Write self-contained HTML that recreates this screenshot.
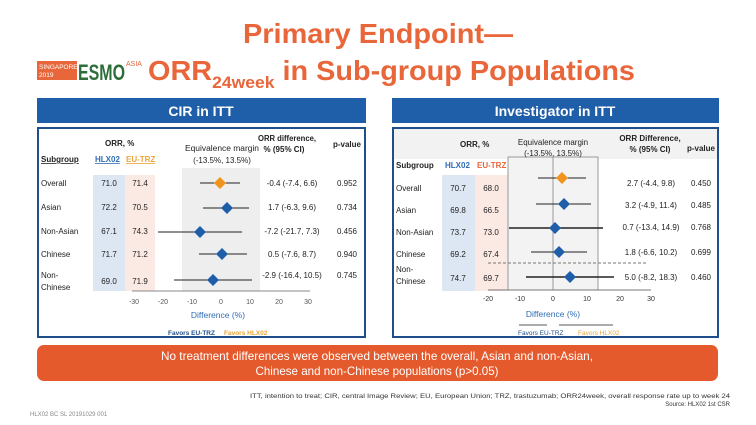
<!DOCTYPE html>
<html><head><meta charset="utf-8"><style>
html,body{margin:0;padding:0;background:#fff;}
svg{display:block;font-family:"Liberation Sans",sans-serif;}
</style></head><body>
<svg width="756" height="425" viewBox="0 0 756 425" xmlns="http://www.w3.org/2000/svg">
<rect width="756" height="425" fill="#fff"/>
<!-- Title -->
<text x="243" y="43" font-size="28" font-weight="bold" fill="#e8663a" textLength="270" lengthAdjust="spacingAndGlyphs">Primary Endpoint—</text>
<text x="148" y="80" font-size="28" font-weight="bold" fill="#e8663a" textLength="487" lengthAdjust="spacingAndGlyphs">ORR<tspan font-size="17" dy="8">24week</tspan><tspan dy="-8"> in Sub-group Populations</tspan></text>
<!-- logo -->
<rect x="37" y="61" width="40" height="19" fill="#e8663a"/>
<text x="39" y="69" font-size="6.5" fill="#fff">SINGAPORE</text>
<text x="39" y="77" font-size="6.5" fill="#fff">2019</text>
<text x="78" y="80" font-size="22" font-weight="bold" fill="#2d6e3a" textLength="47" lengthAdjust="spacingAndGlyphs">ESMO</text>
<text x="126" y="66" font-size="7" fill="#e8663a">ASIA</text>
<!-- headers -->
<rect x="37" y="98" width="329" height="25" fill="#1f5ea8"/>
<text x="201" y="116" text-anchor="middle" font-size="14" font-weight="bold" fill="#fff">CIR in ITT</text>
<rect x="392" y="98" width="327" height="25" fill="#1f5ea8"/>
<text x="555" y="116" text-anchor="middle" font-size="14" font-weight="bold" fill="#fff">Investigator in ITT</text>
<!-- panels -->
<rect x="38" y="128" width="327" height="209" fill="#fff" stroke="#1f4f8a" stroke-width="2"/>
<rect x="393" y="128" width="325" height="209" fill="#fff" stroke="#1f4f8a" stroke-width="2"/>

<!-- LEFT PANEL -->
<g font-size="8" fill="#222">
<rect x="93" y="175" width="32" height="116" fill="#dde6f3"/>
<rect x="125" y="175" width="30" height="116" fill="#fbe9e4"/>
<rect x="182" y="168" width="78" height="123" fill="#eeeeee"/>
<text x="105" y="146" font-weight="bold">ORR, %</text>
<text x="41" y="162" font-weight="bold" text-decoration="underline">Subgroup</text>
<text x="95" y="162" font-weight="bold" fill="#2f6db5" text-decoration="underline">HLX02</text>
<text x="126" y="162" font-weight="bold" fill="#e8a53a" text-decoration="underline">EU-TRZ</text>
<text x="222" y="151" text-anchor="middle" textLength="74" lengthAdjust="spacingAndGlyphs">Equivalence margin</text>
<text x="222" y="163" text-anchor="middle">(-13.5%, 13.5%)</text>
<text x="287" y="141" text-anchor="middle" font-weight="bold" textLength="58" lengthAdjust="spacingAndGlyphs">ORR difference,</text>
<text x="284" y="152" text-anchor="middle" font-weight="bold">% (95% CI)</text>
<text x="347" y="147" text-anchor="middle" font-weight="bold">p-value</text>
<text x="41" y="186">Overall</text><text x="41" y="210">Asian</text><text x="41" y="234">Non-Asian</text><text x="41" y="257">Chinese</text><text x="41" y="278">Non-</text><text x="41" y="290">Chinese</text>
<g text-anchor="middle">
<text x="109" y="186">71.0</text><text x="140" y="186">71.4</text>
<text x="109" y="210">72.2</text><text x="140" y="210">70.5</text>
<text x="109" y="234">67.1</text><text x="140" y="234">74.3</text>
<text x="109" y="257">71.7</text><text x="140" y="257">71.2</text>
<text x="109" y="284">69.0</text><text x="140" y="284">71.9</text>
<text x="292" y="186">-0.4 (-7.4, 6.6)</text><text x="347" y="186">0.952</text>
<text x="292" y="210">1.7 (-6.3, 9.6)</text><text x="347" y="210">0.734</text>
<text x="292" y="234">-7.2 (-21.7, 7.3)</text><text x="347" y="234">0.456</text>
<text x="292" y="257">0.5 (-7.6, 8.7)</text><text x="347" y="257">0.940</text>
<text x="292" y="278">-2.9 (-16.4, 10.5)</text><text x="347" y="278">0.745</text>
</g>
<g stroke="#222" stroke-width="1">
<line x1="200" y1="183" x2="240" y2="183"/>
<line x1="203" y1="208" x2="249" y2="208"/>
<line x1="158" y1="232" x2="242" y2="232"/>
<line x1="199" y1="254" x2="247" y2="254"/>
<line x1="174" y1="280" x2="252" y2="280"/>
<line x1="132" y1="291" x2="310" y2="291" stroke="#888"/>
</g>
<g>
<path d="M220 177 l6 6 l-6 6 l-6 -6z" fill="#f0941e"/>
<path d="M227 202 l6 6 l-6 6 l-6 -6z" fill="#1f5ea8"/>
<path d="M200 226 l6 6 l-6 6 l-6 -6z" fill="#1f5ea8"/>
<path d="M222 248 l6 6 l-6 6 l-6 -6z" fill="#1f5ea8"/>
<path d="M213 274 l6 6 l-6 6 l-6 -6z" fill="#1f5ea8"/>
</g>
<g text-anchor="middle" font-size="7" fill="#555">
<text x="134" y="304">-30</text><text x="163" y="304">-20</text><text x="192" y="304">-10</text><text x="221" y="304">0</text><text x="250" y="304">10</text><text x="279" y="304">20</text><text x="308" y="304">30</text>
</g>
<text x="218" y="318" text-anchor="middle" fill="#2f6db5" font-size="8.5">Difference (%)</text>
<text x="168" y="335" font-size="6.5" font-weight="bold" fill="#1f4f8a">Favors EU-TRZ</text>
<text x="224" y="335" font-size="6.5" font-weight="bold" fill="#e8a53a">Favors HLX02</text>
</g>

<!-- RIGHT PANEL -->
<g font-size="8" fill="#222">
<rect x="394" y="129" width="323" height="30" fill="#f2f2f2"/>
<rect x="442" y="175" width="33" height="116" fill="#dde6f3"/>
<rect x="475" y="175" width="33" height="116" fill="#fbe9e4"/>
<rect x="508" y="157" width="90" height="133" fill="#f3f3f3" stroke="#999" stroke-width="1"/>
<text x="460" y="147" font-weight="bold">ORR, %</text>
<text x="396" y="168" font-weight="bold">Subgroup</text>
<text x="445" y="168" font-weight="bold" fill="#2f6db5">HLX02</text>
<text x="477" y="168" font-weight="bold" fill="#e8663a">EU-TRZ</text>
<text x="553" y="145" text-anchor="middle">Equivalence margin</text>
<text x="553" y="156" text-anchor="middle">(-13.5%, 13.5%)</text>
<text x="650" y="141" text-anchor="middle" font-weight="bold">ORR Difference,</text>
<text x="650" y="152" text-anchor="middle" font-weight="bold">% (95% CI)</text>
<text x="701" y="151" text-anchor="middle" font-weight="bold">p-value</text>
<text x="396" y="191">Overall</text><text x="396" y="213">Asian</text><text x="396" y="235">Non-Asian</text><text x="396" y="257">Chinese</text><text x="396" y="272">Non-</text><text x="396" y="284">Chinese</text>
<g text-anchor="middle">
<text x="458" y="191">70.7</text><text x="491" y="191">68.0</text>
<text x="458" y="213">69.8</text><text x="491" y="213">66.5</text>
<text x="458" y="235">73.7</text><text x="491" y="235">73.0</text>
<text x="458" y="257">69.2</text><text x="491" y="257">67.4</text>
<text x="458" y="281">74.7</text><text x="491" y="281">69.7</text>
<text x="651" y="186">2.7 (-4.4, 9.8)</text><text x="701" y="186">0.450</text>
<text x="651" y="208">3.2 (-4.9, 11.4)</text><text x="701" y="208">0.485</text>
<text x="651" y="230">0.7 (-13.4, 14.9)</text><text x="701" y="230">0.768</text>
<text x="651" y="255">1.8 (-6.6, 10.2)</text><text x="701" y="255">0.699</text>
<text x="651" y="280">5.0 (-8.2, 18.3)</text><text x="701" y="280">0.460</text>
</g>
<line x1="553" y1="157" x2="553" y2="290" stroke="#999"/>
<line x1="488" y1="263" x2="648" y2="263" stroke="#777" stroke-dasharray="3,2"/>
<g stroke="#222" stroke-width="1">
<line x1="538" y1="178" x2="586" y2="178"/>
<line x1="536" y1="204" x2="591" y2="204"/>
<line x1="509" y1="228" x2="603" y2="228" stroke-width="1.5"/>
<line x1="531" y1="252" x2="587" y2="252"/>
<line x1="526" y1="277" x2="614" y2="277" stroke-width="1.5"/>
<line x1="488" y1="290" x2="651" y2="290" stroke="#777"/>
</g>
<path d="M562 172 l6 6 l-6 6 l-6 -6z" fill="#f0941e"/>
<path d="M564 198 l6 6 l-6 6 l-6 -6z" fill="#1f5ea8"/>
<path d="M555 222 l6 6 l-6 6 l-6 -6z" fill="#1f5ea8"/>
<path d="M559 246 l6 6 l-6 6 l-6 -6z" fill="#1f5ea8"/>
<path d="M570 271 l6 6 l-6 6 l-6 -6z" fill="#1f5ea8"/>
<g text-anchor="middle" font-size="7" fill="#333">
<text x="488" y="301">-20</text><text x="520" y="301">-10</text><text x="553" y="301">0</text><text x="587" y="301">10</text><text x="620" y="301">20</text><text x="651" y="301">30</text>
</g>
<text x="553" y="317" text-anchor="middle" fill="#2f6db5" font-size="8.5">Difference (%)</text>
<line x1="519" y1="325" x2="547" y2="325" stroke="#222" stroke-width="0.8"/>
<line x1="559" y1="325" x2="613" y2="325" stroke="#222" stroke-width="0.8"/>
<text x="518" y="335" font-size="6.5" fill="#1f4f8a">Favors EU-TRZ</text>
<text x="578" y="335" font-size="6.5" fill="#e8a53a">Favors HLX02</text>
</g>

<!-- banner -->
<rect x="37" y="345" width="681" height="36" rx="7" fill="#e45a2c"/>
<text x="377" y="360" text-anchor="middle" font-size="12" fill="#fff" textLength="432" lengthAdjust="spacingAndGlyphs">No treatment differences were observed between the overall, Asian and non-Asian,</text>
<text x="377" y="375" text-anchor="middle" font-size="12" fill="#fff" textLength="243" lengthAdjust="spacingAndGlyphs">Chinese and non-Chinese populations (p&gt;0.05)</text>
<!-- footnotes -->
<text x="730" y="398" text-anchor="end" font-size="6" fill="#333" textLength="480" lengthAdjust="spacingAndGlyphs">ITT, intention to treat; CIR, central Image Review; EU, European Union; TRZ, trastuzumab; ORR24week, overall response rate up to week 24</text>
<text x="730" y="406" text-anchor="end" font-size="6" fill="#333">Source: HLX02 1st CSR</text>
<text x="30" y="416" font-size="6" fill="#888">HLX02 BC SL 20191029 001</text>
</svg>
</body></html>
